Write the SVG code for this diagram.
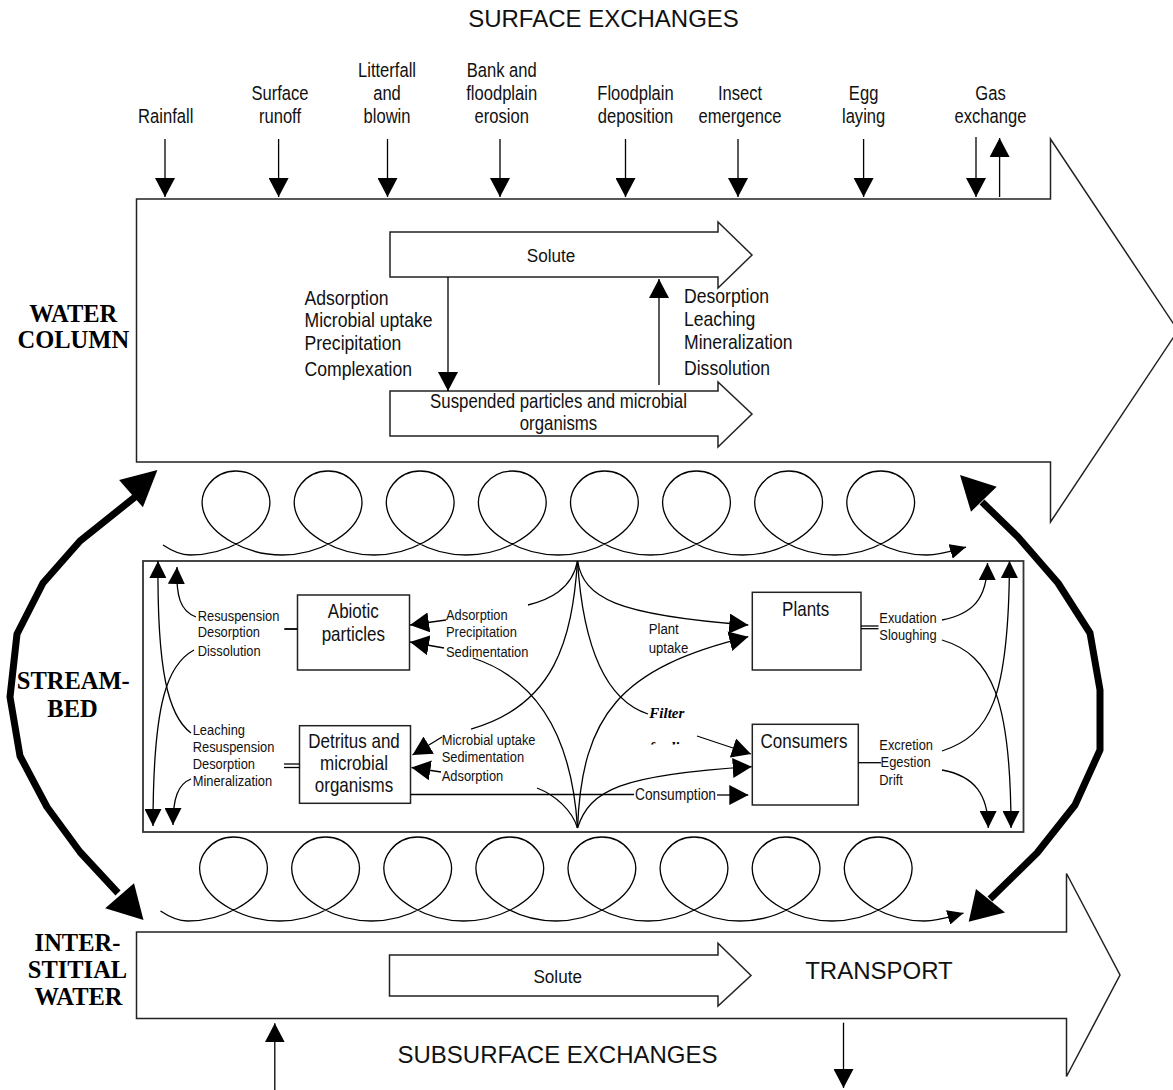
<svg xmlns="http://www.w3.org/2000/svg" width="1173" height="1090" viewBox="0 0 1173 1090">
<style>
.ln{fill:none;stroke:#000;stroke-width:1.3}
.flow{fill:#fff;stroke:#222;stroke-width:1.5}
.box{fill:#fff;stroke:#222;stroke-width:1.5}
.big{fill:none;stroke:#000;stroke-width:7;stroke-linejoin:round;stroke-linecap:butt}
.hd{fill:#000}
.t{font-family:"Liberation Sans",Arial,sans-serif;fill:#111}
.top{font-size:19.5px;text-anchor:middle}
.wc{font-size:20px}
.sb{font-size:15px}
.bx{font-size:20px;text-anchor:middle}
.cap{font-family:"Liberation Sans",Arial,sans-serif;font-size:24px;fill:#111;text-anchor:middle}
.sec{font-family:"Liberation Serif","Times New Roman",serif;font-weight:bold;font-size:24.5px;fill:#000;text-anchor:middle}
.ff{font-family:"Liberation Serif","Times New Roman",serif;font-weight:bold;font-style:italic;font-size:15px;fill:#000}
</style>
<defs>
<marker id="ah" viewBox="0 0 19 20" refX="19" refY="10" markerWidth="19" markerHeight="20" markerUnits="userSpaceOnUse" orient="auto"><path d="M0,0 L19,10 L0,20 Z" fill="#000"/></marker>
<marker id="as" viewBox="0 0 17 17" refX="17" refY="8.5" markerWidth="17" markerHeight="17" markerUnits="userSpaceOnUse" orient="auto"><path d="M0,0 L17,8.5 L0,17 Z" fill="#000"/></marker>
<marker id="al" viewBox="0 0 16 15" refX="16" refY="7.5" markerWidth="16" markerHeight="15" markerUnits="userSpaceOnUse" orient="auto"><path d="M0,0 L16,7.5 L0,15 Z" fill="#000"/></marker>
<clipPath id="clipFeed"><rect x="640" y="730" width="70" height="14.5"/></clipPath>
<path id="loops" class="ln" marker-end="url(#al)" d="M163,545 C172,551 181,555 190,555
C226.4,555 260.3,535 268,513 C275.7,491 257.2,471 236,471 C214.8,471 196.3,491 204,513 C211.7,535 245.6,555 282,555
C318.5,555 352.4,535 360.1,513 C367.8,491 349.3,471 328.1,471 C306.9,471 288.4,491 296.1,513 C303.8,535 337.7,555 374.1,555
C410.6,555 444.5,535 452.2,513 C459.9,491 441.4,471 420.2,471 C399,471 380.5,491 388.2,513 C395.9,535 429.8,555 466.2,555
C502.7,555 536.6,535 544.3,513 C552,491 533.5,471 512.3,471 C491.1,471 472.6,491 480.3,513 C488,535 521.9,555 558.3,555
C594.8,555 628.7,535 636.4,513 C644.1,491 625.6,471 604.4,471 C583.2,471 564.7,491 572.4,513 C580.1,535 614,555 650.4,555
C686.9,555 720.8,535 728.5,513 C736.2,491 717.7,471 696.5,471 C675.3,471 656.8,491 664.5,513 C672.2,535 706.1,555 742.5,555
C779,555 812.9,535 820.6,513 C828.3,491 809.8,471 788.6,471 C767.4,471 748.9,491 756.6,513 C764.3,535 798.2,555 834.6,555
C871.1,555 905,535 912.7,513 C920.4,491 901.9,471 880.7,471 C859.5,471 841,491 848.7,513 C856.4,535 890.3,555 926.7,555
C940,555 952,551 966,547"/>
</defs>
<rect width="1173" height="1090" fill="#fff"/>

<g id="water-column">
<path class="flow" d="M136.5,199 H1050.5 V139 L1178,330.5 L1050.5,522 V462 H136.5 Z"/>
</g>
<g id="solute-wc">
<path class="flow" d="M390,232 H718 V222 L752,255 L718,288 V277 H390 Z"/>
<text class="t" font-size="19" text-anchor="middle" transform="translate(551,261.5) scale(0.9,1)">Solute</text>
</g>
<g id="suspended">
<path class="flow" d="M390,391 H718 V382 L752,414 L718,447 V436 H390 Z"/>
<text class="t" font-size="20.5" text-anchor="middle" transform="translate(558.5,408) scale(0.82,1)"><tspan x="0" y="0">Suspended particles and microbial</tspan><tspan x="0" y="22">organisms</tspan></text>
</g>
<g id="interstitial">
<path class="flow" d="M136.5,932 H1066.5 V873.5 L1120,975 L1066.5,1076.5 V1018.5 H136.5 Z"/>
<text class="cap" x="879" y="979">TRANSPORT</text>
</g>
<g id="solute-iw">
<path class="flow" d="M389.5,955 H718 V943.3 L751,975.5 L718,1006 V996 H389.5 Z"/>
<text class="t" font-size="19" text-anchor="middle" transform="translate(557.7,983) scale(0.9,1)">Solute</text>
</g>
<g id="streambed">
<rect x="143" y="561" width="880.5" height="271" fill="#fff" stroke="#333" stroke-width="1.8"/>
</g>
<g id="abiotic">
<rect class="box" x="297.5" y="595" width="112" height="75"/>
<text class="t bx" transform="translate(353.3,618) scale(0.85,1)"><tspan x="0" y="0">Abiotic</tspan><tspan x="0" y="23">particles</tspan></text>
</g>
<g id="detritus">
<rect class="box" x="299.5" y="725.7" width="111" height="77.6"/>
<text class="t bx" transform="translate(354,748) scale(0.85,1)"><tspan x="0" y="0">Detritus and</tspan><tspan x="0" y="22">microbial</tspan><tspan x="0" y="44">organisms</tspan></text>
</g>
<g id="plants">
<rect class="box" x="752.3" y="592.3" width="108.7" height="77.7"/>
<text class="t bx" transform="translate(805.7,616) scale(0.85,1)">Plants</text>
</g>
<g id="consumers">
<rect class="box" x="752.3" y="724.3" width="106" height="80.7"/>
<text class="t bx" transform="translate(804,748) scale(0.85,1)">Consumers</text>
</g>

<g id="turbulence">
<use href="#loops"/>
<use href="#loops" transform="translate(-2.5,366)"/>
</g>

<g id="section-labels">
<text class="cap" x="603.5" y="27">SURFACE EXCHANGES</text>
<text class="cap" x="557.5" y="1063">SUBSURFACE EXCHANGES</text>
<text class="sec" x="73.3" y="322">WATER</text>
<text class="sec" x="73.3" y="348">COLUMN</text>
<text class="sec" x="73.3" y="689">STREAM-</text>
<text class="sec" x="72.5" y="717">BED</text>
<text class="sec" x="77.5" y="951">INTER-</text>
<text class="sec" x="77.5" y="978">STITIAL</text>
<text class="sec" x="78.5" y="1005">WATER</text>
</g>

<g id="surface-labels">
<text class="t top" transform="translate(165.7,123) scale(0.85,1)">Rainfall</text>
<text class="t top" transform="translate(280,100) scale(0.85,1)"><tspan x="0" y="0">Surface</tspan><tspan x="0" y="23">runoff</tspan></text>
<text class="t top" transform="translate(387,77) scale(0.85,1)"><tspan x="0" y="0">Litterfall</tspan><tspan x="0" y="23">and</tspan><tspan x="0" y="46">blowin</tspan></text>
<text class="t top" transform="translate(501.7,77) scale(0.85,1)"><tspan x="0" y="0">Bank and</tspan><tspan x="0" y="23">floodplain</tspan><tspan x="0" y="46">erosion</tspan></text>
<text class="t top" transform="translate(635.5,100) scale(0.85,1)"><tspan x="0" y="0">Floodplain</tspan><tspan x="0" y="23">deposition</tspan></text>
<text class="t top" transform="translate(740,100) scale(0.85,1)"><tspan x="0" y="0">Insect</tspan><tspan x="0" y="23">emergence</tspan></text>
<text class="t top" transform="translate(863.6,100) scale(0.85,1)"><tspan x="0" y="0">Egg</tspan><tspan x="0" y="23">laying</tspan></text>
<text class="t top" transform="translate(990.5,100) scale(0.85,1)"><tspan x="0" y="0">Gas</tspan><tspan x="0" y="23">exchange</tspan></text>
</g>

<g id="process-labels">
<text class="t wc" transform="translate(304.5,305) scale(0.88,1)"><tspan x="0" y="0">Adsorption</tspan><tspan x="0" y="22">Microbial uptake</tspan><tspan x="0" y="45">Precipitation</tspan><tspan x="0" y="71">Complexation</tspan></text>
<text class="t wc" transform="translate(684,303) scale(0.88,1)"><tspan x="0" y="0">Desorption</tspan><tspan x="0" y="23">Leaching</tspan><tspan x="0" y="46">Mineralization</tspan><tspan x="0" y="72">Dissolution</tspan></text>
<text class="t sb" transform="translate(197.7,621) scale(0.86,1)"><tspan x="0" y="0">Resuspension</tspan><tspan x="0" y="16">Desorption</tspan><tspan x="0" y="35">Dissolution</tspan></text>
<text class="t sb" transform="translate(192.7,735) scale(0.86,1)"><tspan x="0" y="0">Leaching</tspan><tspan x="0" y="17">Resuspension</tspan><tspan x="0" y="34">Desorption</tspan><tspan x="0" y="51">Mineralization</tspan></text>
<text class="t sb" transform="translate(446,620) scale(0.86,1)"><tspan x="0" y="0">Adsorption</tspan><tspan x="0" y="17">Precipitation</tspan><tspan x="0" y="37">Sedimentation</tspan></text>
<text class="t sb" transform="translate(441.7,745) scale(0.86,1)"><tspan x="0" y="0">Microbial uptake</tspan><tspan x="0" y="17">Sedimentation</tspan><tspan x="0" y="36">Adsorption</tspan></text>
<text class="t sb" transform="translate(648.7,634) scale(0.88,1)"><tspan x="0" y="0">Plant</tspan><tspan x="0" y="19">uptake</tspan></text>
<text class="t sb" transform="translate(879.3,623) scale(0.86,1)"><tspan x="0" y="0">Exudation</tspan><tspan x="0" y="17">Sloughing</tspan></text>
<text class="t sb" transform="translate(879.3,750) scale(0.86,1)"><tspan x="0" y="0">Excretion</tspan><tspan x="1.5" y="17">Egestion</tspan><tspan x="0" y="35">Drift</tspan></text>
<text class="t" font-size="16" transform="translate(635,800) scale(0.86,1)">Consumption</text>
<text class="ff" x="649.3" y="718.3">Filter</text>
<text class="ff" x="649.3" y="752" clip-path="url(#clipFeed)">feeding</text>
</g>

<g id="connectors">
<!-- surface exchanges -->
<line class="ln" x1="165" y1="139" x2="165" y2="197" marker-end="url(#ah)"/>
<line class="ln" x1="278.6" y1="139" x2="278.6" y2="197" marker-end="url(#ah)"/>
<line class="ln" x1="387.5" y1="139" x2="387.5" y2="197" marker-end="url(#ah)"/>
<line class="ln" x1="500" y1="139" x2="500" y2="197" marker-end="url(#ah)"/>
<line class="ln" x1="625.5" y1="139" x2="625.5" y2="197" marker-end="url(#ah)"/>
<line class="ln" x1="738" y1="139" x2="738" y2="197" marker-end="url(#ah)"/>
<line class="ln" x1="863.6" y1="139" x2="863.6" y2="197" marker-end="url(#ah)"/>
<line class="ln" x1="976" y1="137" x2="976" y2="197" marker-end="url(#ah)"/>
<line class="ln" x1="999.6" y1="197" x2="999.6" y2="138" marker-end="url(#ah)"/>
<!-- water column exchanges -->
<line class="ln" x1="448" y1="277" x2="448" y2="391" marker-end="url(#ah)"/>
<line class="ln" x1="659" y1="385" x2="659" y2="279" marker-end="url(#ah)"/>
<!-- subsurface -->
<line class="ln" x1="274.8" y1="1090" x2="274.8" y2="1023.3" marker-end="url(#ah)"/>
<line class="ln" x1="843.5" y1="1022.7" x2="843.5" y2="1088" marker-end="url(#ah)"/>
<!-- big exchange arrows -->
<polyline class="big" points="135,497 80,541 43,583 17,634 10,697 20,756 47,807 80,852 118,893"/>
<polygon class="hd" points="157.4,470 119.1,480 142.9,507.3"/>
<polygon class="hd" points="143.5,920 105.2,908.3 134,883.3"/>
<polyline class="big" points="982,502 1018,537 1058,583 1090,633 1100,690 1100,750 1075,805 1037,853 990,899"/>
<polygon class="hd" points="960,475 971,511.7 996.7,486.7"/>
<polygon class="hd" points="968.7,921.7 976,889 1005,912.5"/>
<!-- streambed left -->
<path class="ln" d="M196,617 C180,611 176,596 177,567" marker-end="url(#as)"/>
<path class="ln" d="M191,733 C168,716 157,670 158,561" marker-end="url(#as)"/>
<path class="ln" d="M194,650 C168,664 153,700 153,826" marker-end="url(#as)"/>
<path class="ln" d="M191,779 C178,784 173,798 173,825" marker-end="url(#as)"/>
<line x1="284.3" y1="629" x2="297.5" y2="629" stroke="#000" stroke-width="1.8"/>
<line class="ln" x1="284" y1="764" x2="299.5" y2="764"/>
<line class="ln" x1="284" y1="767.5" x2="299.5" y2="767.5"/>
<!-- into abiotic / detritus -->
<path class="ln" d="M446,620 L410,625" marker-end="url(#ah)"/>
<path class="ln" d="M444,648 L410,642" marker-end="url(#ah)"/>
<path class="ln" d="M442,737 L412.5,755" marker-end="url(#ah)"/>
<path class="ln" d="M441,772 L411.5,767.5" marker-end="url(#ah)"/>
<!-- star -->
<path class="ln" d="M528,605 C548,600 572,590 577.5,561"/>
<path class="ln" d="M577.5,561 C572,640 555,705 471,729"/>
<path class="ln" d="M577.5,561 C583,645 605,700 648,714"/>
<path class="ln" d="M577.5,561 C584,598 615,615 748.3,625" marker-end="url(#ah)"/>
<path class="ln" d="M537,788 C555,795 572,810 577.5,828"/>
<path class="ln" d="M473,658 C540,680 572,740 577.5,828"/>
<path class="ln" d="M577.5,828 C582,715 620,668 748.3,636.7" marker-end="url(#ah)"/>
<path class="ln" d="M577.5,828 C590,790 620,775 751.7,766.7" marker-end="url(#ah)"/>
<path class="ln" d="M697,736 L751,754" marker-end="url(#ah)"/>
<path class="ln" d="M410.7,794.5 H634"/>
<path class="ln" d="M717,795 H748.3" marker-end="url(#ah)"/>
<!-- streambed right -->
<line class="ln" x1="861" y1="626" x2="878.5" y2="626"/>
<line class="ln" x1="861" y1="628.7" x2="878.5" y2="628.7"/>
<line class="ln" x1="858.3" y1="762.7" x2="881" y2="762.7"/>
<path class="ln" d="M942,620 C972,614 987,600 987.5,563" marker-end="url(#as)"/>
<path class="ln" d="M942,751 C990,735 1009,700 1009.5,561" marker-end="url(#as)"/>
<path class="ln" d="M942,640 C992,655 1011,700 1011,828" marker-end="url(#as)"/>
<path class="ln" d="M942,770 C975,776 988,795 988.3,828" marker-end="url(#as)"/>
</g>
</svg>
